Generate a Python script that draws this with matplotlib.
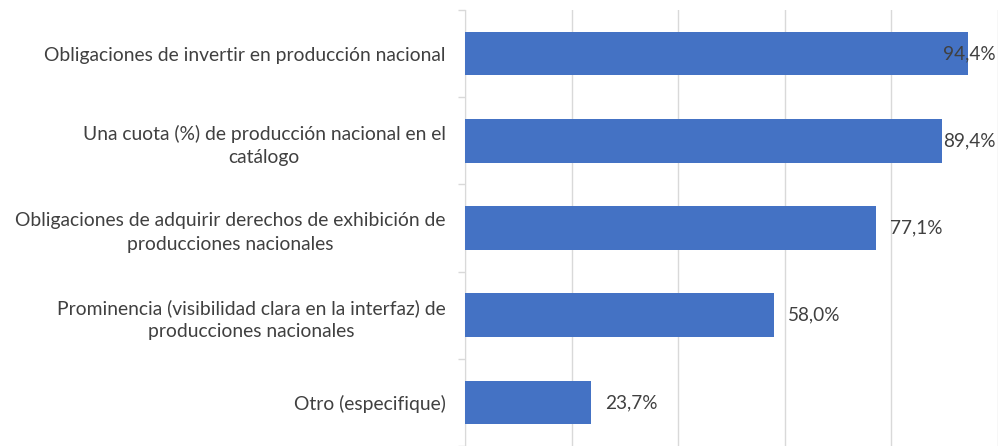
import matplotlib
matplotlib.use("Agg")
import matplotlib.pyplot as plt
from matplotlib.ticker import FixedLocator, NullFormatter

categories = [
    "Obligaciones de invertir en producción nacional",
    "Una cuota (%) de producción nacional en el\ncatálogo",
    "Obligaciones de adquirir derechos de exhibición de\nproducciones nacionales",
    "Prominencia (visibilidad clara en la interfaz) de\nproducciones nacionales",
    "Otro (especifique)",
]
values = [94.4, 89.4, 77.1, 58.0, 23.7]
value_labels = ["94,4%", "89,4%", "77,1%", "58,0%", "23,7%"]

plt.rcParams["font.family"] = ["Lato", "DejaVu Sans"]
text_color = "#404040"
bar_color = "#4472C4"
grid_color = "#d9d9d9"

fig = plt.figure(figsize=(9.98, 4.46), dpi=100)
ax = fig.add_axes([465 / 998, 0.0, 1 - 465 / 998, 1 - 10 / 446])

pos = list(range(len(categories)))
ax.barh(pos, values, height=0.5, color=bar_color, zorder=3)

# labels that would run off the right edge are pulled back inside
for y, v, lab in zip(pos, values, value_labels):
    if v > 85:
        ax.text(99.6, y, lab, ha="right", va="center", fontsize=13.7,
                color=text_color, zorder=4)
    else:
        ax.text(v + 2.6, y, lab, ha="left", va="center", fontsize=13.7,
                color=text_color, zorder=4)

ax.set_xlim(0, 100)
ax.set_ylim(len(categories) - 0.5, -0.5)
ax.set_xticks([0, 20, 40, 60, 80, 100])
ax.xaxis.set_major_formatter(NullFormatter())
ax.tick_params(axis="x", length=0)
ax.grid(axis="x", color=grid_color, linewidth=1, zorder=0)

ax.set_yticks(pos)
ax.set_yticklabels(categories, fontsize=13.9, color=text_color,
                   multialignment="center", linespacing=1.45)
ax.tick_params(axis="y", which="major", length=0, pad=14)
ax.yaxis.set_minor_locator(FixedLocator([p - 0.5 for p in pos] + [len(pos) - 0.5]))
ax.tick_params(axis="y", which="minor", length=5, color=grid_color, width=1)

for side in ["top", "right", "bottom"]:
    ax.spines[side].set_visible(False)
ax.spines["left"].set_color(grid_color)

fig.savefig("out.png", dpi=100)
